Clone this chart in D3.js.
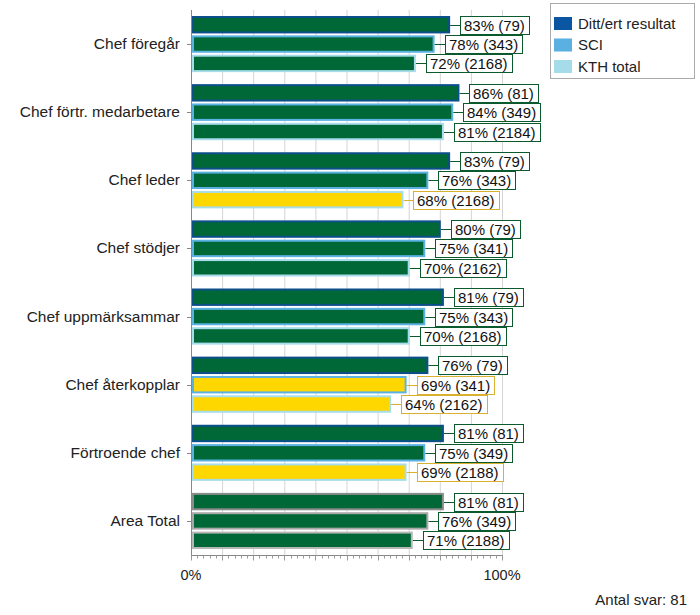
<!DOCTYPE html>
<html><head><meta charset="utf-8">
<script src="https://cdn.jsdelivr.net/npm/d3@7"></script>
<style>body{margin:0;background:#fff;}svg{display:block;font-family:"Liberation Sans",Arial,sans-serif;}</style>
</head><body>
<svg id="c" width="700" height="615"></svg>
<script>
const categories = ["Chef föregår","Chef förtr. medarbetare","Chef leder","Chef stödjer","Chef uppmärksammar","Chef återkopplar","Förtroende chef","Area Total"];
const seriesNames = ["Ditt/ert resultat","SCI","KTH total"];
const valuesDitt = [83,86,83,80,81,76,81,81];
const valuesSCI  = [78,84,76,75,75,69,75,76];
const valuesKTH  = [72,81,68,70,70,64,69,71];
const countsDitt = [79,81,79,79,79,79,81,81];
const countsSCI  = [343,349,343,341,343,341,349,349];
const countsKTH  = [2168,2184,2168,2162,2168,2162,2188,2188];
// colour status: g = green, y = yellow
const statusDitt = ["g","g","g","g","g","g","g","g"];
const statusSCI  = ["g","g","g","g","g","y","g","g"];
const statusKTH  = ["g","g","y","g","g","y","y","g"];
const xTicks = [0,100];
const footer = "Antal svar: 81";

const svg = d3.select("#c");
const L = 191, R = 502, T = 10, B = 555;
const x = d3.scaleLinear().domain([0,100]).range([L,R]);
const y0 = d3.scaleBand().domain(categories).range([T,B]).paddingInner(0).paddingOuter(0);
const y1 = d3.scaleBand().domain(seriesNames).range([6, y0.bandwidth()-6]).paddingInner(0.1);

const fillCol = {g:"#006837", y:"#ffd700"};
const boxCol = {g:"#0b5a2e", y:"#d9b030"};
const borderCol = ["#0d4f8b","#5bb2e2","#a7dcea"];
const totalBorder = ["#8c8c8c","#a8a8a8","#b8b8b8"];
const legendCol = ["#0b56a3","#5ab0e0","#a6dbe9"];

// gridlines
svg.append("g").selectAll("line").data(d3.range(10,101,10)).join("line")
  .attr("x1",d=>x(d)+0.5).attr("x2",d=>x(d)+0.5).attr("y1",T).attr("y2",B)
  .attr("stroke","#d4d4d4").attr("stroke-width",1);

// bottom axis
const ax = svg.append("g").attr("transform",`translate(0,${B+0.5})`);
ax.append("line").attr("x1",L).attr("x2",R+1).attr("stroke","#888");
ax.selectAll("line.mi").data(d3.range(0,101,2)).join("line").attr("class","mi")
  .attr("x1",d=>Math.round(x(d))+0.5).attr("x2",d=>Math.round(x(d))+0.5)
  .attr("y1",0).attr("y2",d=>d%10===0?5:3).attr("stroke","#999");
ax.selectAll("text").data(xTicks).join("text")
  .attr("x",d=>x(d)).attr("y",24).attr("text-anchor","middle")
  .attr("font-size",14.5).attr("fill","#222").text(d=>d+"%");

// left axis
svg.append("line").attr("x1",L+0.5).attr("x2",L+0.5).attr("y1",T).attr("y2",B).attr("stroke","#888");
svg.append("g").selectAll("line").data(categories).join("line")
  .attr("x1",L-4).attr("x2",L).attr("y1",d=>Math.round(y0(d)+y0.bandwidth()/2)+0.5)
  .attr("y2",d=>Math.round(y0(d)+y0.bandwidth()/2)+0.5).attr("stroke","#888");
svg.append("g").selectAll("text").data(categories).join("text")
  .attr("x",L-11).attr("y",d=>y0(d)+y0.bandwidth()/2+5).attr("text-anchor","end")
  .attr("font-size",15.5).attr("fill","#222").text(d=>d);

// build rows
const rows = [];
categories.forEach((c,i)=>{
  const isTotal = (c==="Area Total");
  [[valuesDitt,countsDitt,statusDitt],[valuesSCI,countsSCI,statusSCI],[valuesKTH,countsKTH,statusKTH]].forEach((s,j)=>{
    rows.push({cat:c, ser:seriesNames[j], j, v:s[0][i], n:s[1][i], st:s[2][i], total:isTotal});
  });
});

const g = svg.append("g");
rows.forEach(r=>{
  const yy = y0(r.cat)+y1(r.ser);
  const h = y1.bandwidth();
  const bw = 2;
  g.append("rect").attr("x",L+1+bw/2).attr("y",yy+bw/2).attr("width",x(r.v)-L-1-bw/2).attr("height",h-bw)
    .attr("fill",fillCol[r.st]).attr("stroke",r.total?totalBorder[r.j]:borderCol[r.j]).attr("stroke-width",bw);
});
rows.forEach(r=>{
  const yy = y0(r.cat)+y1(r.ser);
  const h = y1.bandwidth();
  const cy = Math.round(yy+h/2);
  const xe = x(r.v)+1;
  const bx = Math.round(xe+10);
  const label = `${r.v}% (${r.n})`;
  const t = g.append("text").attr("x",bx+4).attr("y",cy+5.5).attr("font-size",15).attr("fill","#111").text(label);
  const w = t.node().getComputedTextLength();
  g.insert("rect","text").attr("x",bx+0.5).attr("y",cy-9+0.5).attr("width",Math.round(w+8)).attr("height",18)
    .attr("fill","#fff").attr("stroke",boxCol[r.st]).attr("stroke-width",1);
  g.insert("line","rect").attr("x1",xe).attr("x2",bx).attr("y1",cy+0.5).attr("y2",cy+0.5)
    .attr("stroke",boxCol[r.st]).attr("stroke-width",1);
});

// legend
const lg = svg.append("g");
lg.append("rect").attr("x",550.5).attr("y",3.5).attr("width",144).attr("height",75).attr("fill","#fff").attr("stroke","#aaa");
seriesNames.forEach((s,i)=>{
  const cy = 23 + i*21.5;
  lg.append("rect").attr("x",554).attr("y",cy-6).attr("width",18).attr("height",13).attr("fill",legendCol[i]);
  lg.append("text").attr("x",578).attr("y",cy+5.5).attr("font-size",15).attr("fill","#222").text(s);
});

svg.append("text").attr("x",687).attr("y",605).attr("text-anchor","end").attr("font-size",15).attr("fill","#222").text(footer);
</script>
</body></html>
